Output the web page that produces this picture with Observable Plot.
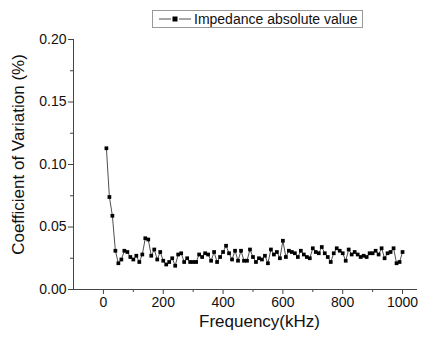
<!DOCTYPE html>
<html>
<head>
<meta charset="utf-8">
<script src="https://cdn.jsdelivr.net/npm/d3@7"></script>
<script src="https://cdn.jsdelivr.net/npm/@observablehq/plot@0.6"></script>
<style>
  html, body { margin: 0; padding: 0; background: #fff; }
  #wrap { position: relative; width: 429px; height: 337px; font-family: "Liberation Sans", Arial, sans-serif; }
  #legend { position: absolute; left: 152px; top: 10px; width: 209px; height: 16px; border: 1px solid #999; background: #fff;
            display: flex; align-items: center; font-size: 14px; color: #111; white-space: nowrap; }
  #legend svg { margin-left: 6px; margin-right: 3px; }
</style>
</head>
<body>
<div id="wrap"></div>
<script>
const seriesName = "Impedance absolute value";
const freq = [10,20,30,40,50,60,70,80,90,100,110,120,130,140,150,160,170,180,190,200,
  210,220,230,240,250,260,270,280,290,300,310,320,330,340,350,360,370,380,390,400,
  410,420,430,440,450,460,470,480,490,500,510,520,530,540,550,560,570,580,590,600,
  610,620,630,640,650,660,670,680,690,700,710,720,730,740,750,760,770,780,790,800,
  810,820,830,840,850,860,870,880,890,900,910,920,930,940,950,960,970,980,990,1000];
const cv = [0.113,0.074,0.059,0.031,0.021,0.024,0.031,0.030,0.026,0.024,
  0.027,0.022,0.028,0.041,0.040,0.027,0.032,0.024,0.030,0.023,
  0.020,0.022,0.025,0.019,0.028,0.029,0.022,0.025,0.022,0.022,
  0.022,0.028,0.026,0.029,0.028,0.023,0.030,0.022,0.026,0.030,
  0.035,0.029,0.024,0.031,0.023,0.031,0.023,0.023,0.032,0.026,
  0.022,0.025,0.024,0.027,0.021,0.032,0.028,0.030,0.025,0.039,
  0.026,0.031,0.030,0.029,0.026,0.031,0.028,0.026,0.025,0.033,
  0.030,0.029,0.034,0.029,0.026,0.022,0.029,0.033,0.031,0.029,
  0.023,0.032,0.028,0.030,0.028,0.026,0.027,0.026,0.029,0.029,
  0.031,0.028,0.033,0.025,0.029,0.030,0.033,0.021,0.022,0.030];
const xTicks = [0,200,400,600,800,1000];
const xMinor = [100,300,500,700,900];
const yTicks = [0,0.05,0.10,0.15,0.20];
const yMinor = [0.025,0.075,0.125,0.175];
const xLabel = "Frequency(kHz)";
const yLabel = "Coefficient of Variation (%)";

const data = freq.map((f, i) => ({f, v: cv[i]}));
const axisColor = "#444";

const chart = Plot.plot({
  width: 429, height: 337,
  marginLeft: 73, marginRight: 12, marginTop: 39, marginBottom: 48,
  x: {domain: [-100, 1050]},
  y: {domain: [0, 0.2]},
  style: {fontFamily: "'Liberation Sans', Arial, sans-serif", color: "#111", background: "transparent"},
  marks: [
    Plot.ruleX([-100], {stroke: axisColor, strokeWidth: 1}),
    Plot.ruleY([0], {stroke: axisColor, strokeWidth: 1}),
    Plot.axisX(xTicks, {tickSize: 5, tickPadding: 3, fontSize: 14, stroke: axisColor, label: null, tickFormat: d => String(d)}),
    Plot.axisX(xMinor, {tickSize: 3, text: null, stroke: axisColor, label: null}),
    Plot.axisY(yTicks, {tickSize: 5, tickPadding: 2, fontSize: 14, stroke: axisColor, label: null, tickFormat: d3.format(".2f")}),
    Plot.axisY(yMinor, {tickSize: 3, text: null, stroke: axisColor, label: null}),
    Plot.line(data, {x: "f", y: "v", stroke: "#222", strokeWidth: 0.8}),
    Plot.dot(data, {x: "f", y: "v", symbol: "square", r: 2.1, fill: "#000", stroke: "none"}),
    Plot.text([xLabel], {frameAnchor: "bottom", dx: 14, dy: 37, fontSize: 17, fill: "#111"}),
    Plot.text([yLabel], {frameAnchor: "left", dx: -55, dy: -10, rotate: -90, textAnchor: "middle", fontSize: 17, fill: "#111"})
  ]
});

const wrap = document.getElementById("wrap");
wrap.appendChild(chart);
const legend = document.createElement("div");
legend.id = "legend";
legend.innerHTML = `<svg width="32" height="10"><line x1="0" y1="5" x2="12" y2="5" stroke="#222" stroke-width="0.8"/><line x1="20" y1="5" x2="32" y2="5" stroke="#222" stroke-width="0.8"/><rect x="13.5" y="2.5" width="5" height="5" fill="#000"/></svg><span></span>`;
legend.querySelector("span").textContent = seriesName;
wrap.appendChild(legend);
</script>
</body>
</html>
